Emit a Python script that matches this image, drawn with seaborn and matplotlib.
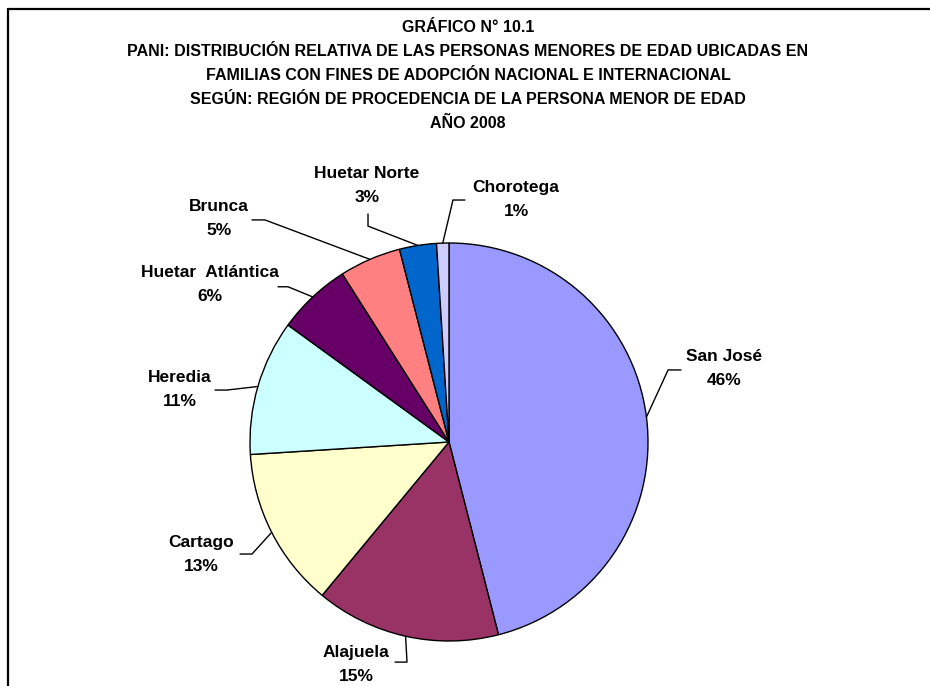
import numpy as np
import matplotlib
matplotlib.use("Agg")
import matplotlib.pyplot as plt
import seaborn as sns

# data
regiones = ['San José', 'Alajuela', 'Cartago', 'Heredia', 'Huetar  Atlántica',
            'Brunca', 'Huetar Norte', 'Chorotega']
porcentajes = [46, 15, 13, 11, 6, 5, 3, 1]
colores = ['#9999FF', '#993366', '#FFFFCC', '#CCFFFF', '#660066',
           '#FF8080', '#0066CC', '#CCCCFF']
titulo = ['GRÁFICO N° 10.1',
          'PANI: DISTRIBUCIÓN RELATIVA DE LAS PERSONAS MENORES DE EDAD UBICADAS EN',
          'FAMILIAS CON FINES DE ADOPCIÓN NACIONAL E INTERNACIONAL',
          'SEGÚN: REGIÓN DE PROCEDENCIA DE LA PERSONA MENOR DE EDAD',
          'AÑO 2008']

# label layout (pie radius units): text centre, leader elbow, leader stub end
pos_texto = [(1.382, 0.367), (-0.467, -1.116), (-1.246, -0.563), (-1.352, 0.266),
             (-1.20, 0.79), (-1.156, 1.121), (-0.412, 1.291), (0.337, 1.221)]
codo = [(1.101, 0.362), (-0.211, -1.106), (-0.990, -0.563), (-1.116, 0.261),
        (-0.809, 0.78), (-0.925, 1.116), (-0.407, 1.085), (0.020, 1.216)]
fin = [(1.166, 0.362), (-0.271, -1.106), (-1.050, -0.563), (-1.176, 0.261),
       (-0.859, 0.78), (-0.990, 1.116), (-0.407, 1.146), (0.080, 1.216)]

sns.set_theme(style='white')
plt.rcParams['font.family'] = ['Liberation Sans', 'DejaVu Sans']
plt.rcParams['text.color'] = 'black'

W, H = 930, 686
cx, cy, R = 449, 442, 199

fig = plt.figure(figsize=(W / 100, H / 100), dpi=100)
ax = fig.add_axes([0, 0, 1, 1])

wedges, _ = ax.pie(porcentajes, colors=colores, startangle=90, counterclock=False,
                   wedgeprops=dict(edgecolor='black', linewidth=1))
ax.set_xlim(-cx / R, (W - cx) / R)
ax.set_ylim(-(H - cy) / R, cy / R)
ax.axis('off')

for w, nombre, p, t, c, f in zip(wedges, regiones, porcentajes, pos_texto, codo, fin):
    ang = np.deg2rad((w.theta1 + w.theta2) / 2)
    x0, y0 = np.cos(ang) * w.r, np.sin(ang) * w.r
    ax.plot([x0, c[0], f[0]], [y0, c[1], f[1]], color='black', lw=1)
    ax.text(t[0], t[1], f'{nombre}\n{p}%', ha='center', va='center', color='black',
            fontsize=12.5, fontweight='bold', linespacing=1.75)

for i, linea in enumerate(titulo):
    fig.text(468 / W, 1 - (27 + i * 24) / H, linea, ha='center', va='center',
             color='black', fontsize=11.5, fontweight='bold')

# chart border (only top and left edges fall inside the image)
fig.add_artist(plt.Line2D([8 / W, 1.0], [1 - 9 / H, 1 - 9 / H], color='black', lw=1.6))
fig.add_artist(plt.Line2D([8 / W, 8 / W], [0, 1 - 9 / H], color='black', lw=1.6))

fig.savefig('out.png', dpi=100, facecolor='white')
